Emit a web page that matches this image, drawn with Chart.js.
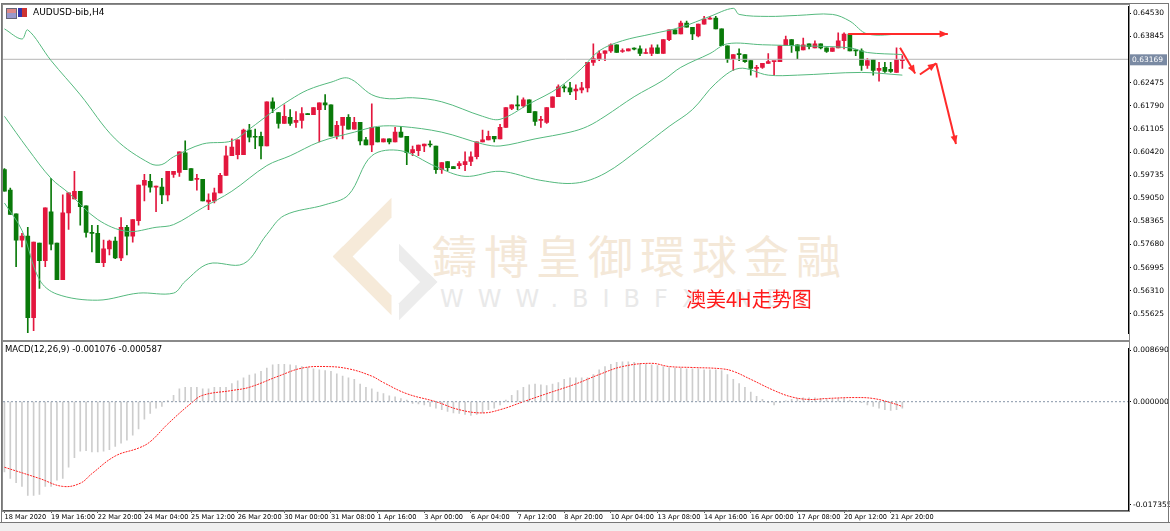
<!DOCTYPE html>
<html>
<head>
<meta charset="utf-8">
<script src="https://cdn.jsdelivr.net/npm/chart.js@4.4.1/dist/chart.umd.min.js"></script>
<style>
  body { margin: 0; background: #fff; width: 1170px; height: 531px; overflow: hidden; position: relative; font-family: "DejaVu Sans", sans-serif; }
  canvas { position: absolute; left: 0; z-index: 2; }
  #main { top: 0; }
  #macd { top: 342px; }
  .frame { position: absolute; border: 1px solid #8a8a8a; z-index: 3; pointer-events: none; }
  .wm { position: absolute; z-index: 1; white-space: nowrap; }
  #title { position: absolute; left: 33px; top: 7px; font-size: 9px; z-index: 4; }
  #macdTitle { position: absolute; left: 5px; top: 344px; font-size: 8.5px; z-index: 4; }
  .ico { position: absolute; top: 8px; width: 9px; height: 9px; z-index: 4; }
  #tabs { position: absolute; left: 0; top: 522px; width: 1170px; height: 9px; background: #f0f0f0; border-top: 1px solid #777; z-index: 4; }
</style>
</head>
<body>
<div class="frame" style="left:1px;top:3px;width:1166px;height:520px;border-color:#777"></div>
<div class="frame" style="left:2px;top:4px;width:1126px;height:335px;"></div>
<div class="frame" style="left:2px;top:341px;width:1126px;height:169px;"></div>
<div class="ico" style="left:6px;background:linear-gradient(#d88 0 40%,#99c 40%);border:1px solid #667"></div>
<div class="ico" style="left:18px;background:linear-gradient(90deg,#33a 0 50%,#c33 50%);"></div>
<div id="title">AUDUSD-bib,H4</div>
<div id="macdTitle">MACD(12,26,9) -0.001076 -0.000587</div>

<div class="wm" style="left:350px;top:215px;width:55px;height:55px;border:14px solid #f6ead9;border-right-color:transparent;border-bottom-color:transparent;transform:rotate(-45deg);"></div>
<div class="wm" style="left:372px;top:255px;width:30px;height:30px;border:12px solid #ececec;border-left-color:transparent;border-top-color:transparent;transform:rotate(-45deg);"></div>
<div class="wm" style="left:432px;top:222px;font-size:45px;letter-spacing:7px;color:#f4e8d8;font-family:'Noto Sans CJK TC';">鑄博皇御環球金融</div>
<div class="wm" style="left:440px;top:285px;font-size:24px;letter-spacing:14px;color:#e9e9e9;font-family:'DejaVu Sans';">WWW.BIBFX.NET</div>
<div class="wm" style="left:686px;top:284px;font-size:20px;color:#ff1a1a;font-family:'Noto Sans CJK SC';z-index:3;">澳美4H走势图</div>

<canvas id="main" width="1170" height="340"></canvas>
<canvas id="macd" width="1170" height="180"></canvas>
<div id="tabs"></div>

<script>
// OHLC per H4 bar: [open, high, low, close]
const ohlc = [
  [.5990,.5993,.5926,.5926],[.5929,.5935,.5857,.5857],[.5859,.5859,.5702,.5781],[.5781,.5801,.5761,.5793],
  [.5793,.5819,.5507,.5551],[.5551,.5775,.5513,.5775],[.5772,.5772,.5638,.5720],[.5720,.5877,.5702,.5877],
  [.5865,.5964,.5752,.5769],[.5772,.5772,.5664,.5664],[.5664,.5915,.5664,.5862],[.5862,.5921,.5813,.5921],
  [.5903,.5985,.5903,.5926],[.5926,.5926,.5825,.5880],[.5883,.5883,.5790,.5804],[.5804,.5825,.5746,.5801],
  [.5801,.5825,.5714,.5714],[.5714,.5781,.5702,.5755],[.5755,.5781,.5737,.5778],[.5778,.5790,.5726,.5728],
  [.5728,.5848,.5720,.5819],[.5819,.5825,.5737,.5793],[.5793,.5842,.5775,.5842],[.5839,.5944,.5825,.5944],
  [.5944,.5976,.5897,.5958],[.5955,.5976,.5923,.5938],[.5938,.5941,.5865,.5939],[.5938,.5964,.5889,.5915],
  [.5915,.5985,.5897,.5985],[.5976,.5985,.5967,.5985],[.5982,.6043,.5970,.6043],[.6040,.6075,.5990,.5990],
  [.5993,.5993,.5958,.5958],[.5961,.5976,.5929,.5962],[.5961,.5961,.5897,.5897],[.5894,.5918,.5871,.5900],
  [.5897,.5935,.5891,.5921],[.5921,.5979,.5921,.5973],[.5973,.6060,.5973,.6031],[.6031,.6081,.6031,.6057],
  [.6034,.6078,.6022,.6078],[.6034,.6110,.6034,.6107],[.6107,.6124,.6072,.6086],[.6089,.6110,.6052,.6086],
  [.6089,.6101,.6022,.6060],[.6060,.6191,.6060,.6191],[.6191,.6203,.6159,.6171],[.6159,.6159,.6113,.6127],
  [.6127,.6182,.6127,.6148],[.6145,.6168,.6121,.6127],[.6130,.6162,.6115,.6136],[.6136,.6174,.6113,.6156],
  [.6156,.6156,.6153,.6153],[.6153,.6174,.6153,.6174],[.6168,.6188,.6072,.6188],[.6188,.6212,.6168,.6182],
  [.6182,.6182,.6089,.6089],[.6089,.6133,.6081,.6121],[.6121,.6145,.6081,.6145],[.6145,.6153,.6110,.6110],
  [.6110,.6145,.6110,.6130],[.6130,.6130,.6063,.6075],[.6078,.6086,.6063,.6063],[.6063,.6185,.6043,.6115],
  [.6115,.6115,.6072,.6072],[.6072,.6081,.6072,.6081],[.6081,.6081,.6066,.6072],[.6072,.6115,.6072,.6101],
  [.6101,.6118,.6086,.6086],[.6089,.6089,.6005,.6040],[.6040,.6060,.6031,.6049],[.6046,.6063,.6031,.6063],
  [.6060,.6066,.6043,.6066],[.6066,.6075,.6057,.6063],[.6060,.6060,.5979,.5990],[.5990,.6011,.5979,.6011],
  [.6014,.6014,.5987,.5996],[.5999,.5999,.5993,.5993],[.6002,.6014,.5993,.6008],[.6005,.6043,.5987,.6014],
  [.6014,.6043,.6002,.6028],[.6028,.6072,.6022,.6072],[.6072,.6107,.6072,.6078],[.6078,.6104,.6078,.6089],
  [.6089,.6089,.6072,.6081],[.6081,.6124,.6081,.6115],[.6115,.6174,.6115,.6174],[.6171,.6182,.6168,.6182],
  [.6182,.6209,.6168,.6179],[.6179,.6203,.6174,.6197],[.6197,.6197,.6159,.6159],[.6162,.6162,.6121,.6133],
  [.6136,.6148,.6115,.6137],[.6130,.6174,.6127,.6174],[.6174,.6206,.6174,.6206],[.6206,.6241,.6206,.6235],
  [.6235,.6241,.6220,.6232],[.6232,.6249,.6212,.6220],[.6223,.6241,.6197,.6229],[.6226,.6249,.6217,.6232],
  [.6232,.6308,.6220,.6308],[.6308,.6363,.6299,.6319],[.6319,.6342,.6313,.6334],[.6334,.6342,.6313,.6342],
  [.6342,.6363,.6337,.6360],[.6360,.6360,.6337,.6337],[.6340,.6348,.6337,.6342],[.6342,.6348,.6342,.6348],
  [.6348,.6351,.6345,.6347],[.6348,.6357,.6328,.6334],[.6334,.6348,.6334,.6337],[.6334,.6360,.6328,.6351],
  [.6351,.6360,.6334,.6334],[.6334,.6375,.6334,.6375],[.6375,.6404,.6372,.6404],[.6404,.6404,.6392,.6392],
  [.6392,.6430,.6392,.6424],[.6424,.6430,.6412,.6412],[.6412,.6412,.6375,.6392],[.6386,.6421,.6383,.6421],
  [.6421,.6444,.6421,.6436],[.6436,.6444,.6436,.6439],[.6439,.6444,.6407,.6407],[.6407,.6407,.6357,.6357],
  [.6357,.6357,.6308,.6319],[.6319,.6331,.6284,.6331],[.6334,.6348,.6313,.6331],[.6331,.6331,.6308,.6310],
  [.6313,.6313,.6270,.6290],[.6290,.6299,.6264,.6293],[.6293,.6305,.6290,.6305],[.6305,.6334,.6305,.6310],
  [.6310,.6310,.6270,.6311],[.6310,.6357,.6310,.6357],[.6357,.6386,.6357,.6375],[.6375,.6375,.6337,.6357],
  [.6360,.6360,.6319,.6342],[.6345,.6380,.6345,.6360],[.6363,.6363,.6348,.6354],[.6351,.6372,.6351,.6363],
  [.6363,.6363,.6348,.6351],[.6351,.6351,.6337,.6340],[.6340,.6351,.6340,.6351],[.6351,.6395,.6351,.6372],
  [.6372,.6395,.6348,.6392],[.6392,.6392,.6342,.6342],[.6345,.6345,.6328,.6342],[.6342,.6348,.6284,.6299],
  [.6299,.6319,.6290,.6313],[.6316,.6316,.6270,.6284],[.6284,.6308,.6252,.6290],[.6293,.6308,.6278,.6281],
  [.6287,.6308,.6278,.6281],[.6278,.6351,.6278,.6316],[.6313,.6328,.6290,.6317]
];

// Bollinger bands: [bar, price]
const upperBand = [[0,.6407],[3,.6377],[4,.6404],[8,.6313],[13,.6212],[19,.6081],[25,.6008],[27,.6005],[29,.6028],
  [34,.6066],[39,.6075],[42,.6110],[46,.6162],[49,.6197],[52,.6226],[56,.6249],[59,.6261],[63,.6212],[66,.6200],
  [70,.6203],[75,.6191],[82,.6148],[85,.6139],[90,.6185],[95,.6232],[99,.6290],[102,.6342],[106,.6372],[111,.6392],
  [116,.6412],[121,.6444],[125,.6468],[126,.6450],[131,.6444],[136,.6447],[142,.6450],[145,.6430],[148,.6392],[154,.6392]];
const middleBand = [[0,.6148],[4,.6052],[8,.5964],[11,.5921],[16,.5842],[21,.5807],[26,.5819],[29,.5827],[34,.5877],
  [39,.5926],[45,.6002],[49,.6031],[54,.6072],[60,.6101],[64,.6118],[68,.6118],[75,.6101],[82,.6066],[85,.6060],
  [91,.6081],[97,.6101],[100,.6118],[103,.6148],[108,.6206],[113,.6255],[116,.6293],[121,.6334],[124,.6363],
  [130,.6360],[136,.6357],[145,.6351],[148,.6337],[154,.6331]];
const lowerBand = [[0,.5891],[3,.5810],[6,.5664],[9,.5621],[16,.5603],[23,.5624],[29,.5624],[31,.5659],[35,.5711],
  [41,.5711],[45,.5798],[48,.5854],[55,.5886],[59,.5915],[63,.6031],[68,.6046],[74,.5999],[79,.5970],[85,.5985],
  [92,.5958],[98,.5950],[103,.5979],[109,.6052],[114,.6118],[118,.6168],[122,.6246],[126,.6290],[131,.6270],
  [136,.6270],[147,.6278],[154,.6270]];

const lastPrice = 0.63169;
const priceTicks = [.64530,.63845,.63160,.62475,.61790,.61105,.60420,.59735,.59050,.58365,.57680,.56995,.56310,.55625];

// MACD histogram per bar and signal line
const macdHist = [
  -.01186,-.01294,-.01364,-.01428,-.01579,-.01579,-.01563,-.01428,-.01428,-.01321,-.01294,-.01105,-.00943,-.00835,
  -.00825,-.00846,-.00846,-.00835,-.00809,-.00755,-.00701,-.00647,-.00566,-.00458,-.00296,-.00199,-.00108,-.00081,
  .00020,.00108,.00216,.00243,.00243,.00243,.00216,.00216,.00243,.00243,.00243,.00307,.00350,.00404,.00447,.00469,
  .00512,.00566,.00620,.00631,.00631,.00620,.00609,.00593,.00577,.00555,.00539,.00523,.00512,.00469,.00431,.00404,
  .00377,.00296,.00243,.00216,.00162,.00135,.00097,.00081,.00054,.00027,-.00027,-.00038,-.00054,-.00081,-.00108,
  -.00135,-.00162,-.00189,-.00199,-.00216,-.00232,-.00216,-.00189,-.00135,-.00108,-.00054,.00027,.00108,.00189,
  .00243,.00286,.00296,.00286,.00270,.00296,.00323,.00377,.00404,.00404,.00404,
  .00404,.00458,.00539,.00593,.00631,.00663,.00674,.00674,.00663,.00647,.00631,.00620,.00609,.00593,.00577,.00566,
  .00566,.00555,.00555,.00555,.00539,.00539,.00539,.00523,.00458,.00377,.00307,.00243,.00162,.00092,.00038,-.00016,
  -.00054,-.00016,.00016,.00038,.00054,.00065,.00065,.00065,.00054,.00038,.00038,.00054,.00054,.00027,0,-.00016,
  -.00054,-.00081,-.00108,-.00135,-.00146,-.00135,-.00108
];
const macdSignal = [[0,-.01105],[6,-.01294],[10,-.01428],[13,-.01375],[15,-.01213],[19,-.00916],[23,-.00782],
  [25,-.00674],[28,-.00377],[32,-.00027],[34,.00108],[39,.00189],[42,.00243],[47,.00431],[51,.00566],[55,.00593],
  [59,.00555],[63,.00431],[65,.00323],[69,.00135],[74,0],[78,-.00135],[82,-.00189],[85,-.00135],[89,0],[93,.00135],
  [98,.00300],[102,.00458],[106,.00593],[111,.00647],[114,.00593],[118,.00577],[123,.00555],[125,.00512],
  [128,.00377],[132,.00189],[135,.00081],[138,.00038],[141,.00054],[146,.00070],[149,.00054],[152,-.00016],[154,-.00081]];
const macdTicks = [0.008690, 0, -0.017355];

const dateLabels = ["18 Mar 2020","19 Mar 16:00","22 Mar 20:00","24 Mar 04:00","25 Mar 12:00","26 Mar 20:00",
  "30 Mar 00:00","31 Mar 08:00","1 Apr 16:00","3 Apr 00:00","6 Apr 04:00","7 Apr 12:00","8 Apr 20:00",
  "10 Apr 04:00","13 Apr 08:00","14 Apr 16:00","16 Apr 00:00","17 Apr 08:00","20 Apr 12:00","21 Apr 20:00"];

// forecast arrows: [fromBar, fromPrice, toBar, toPrice]
const arrows = [[144.7,.6392,161.8,.6392],[153.6,.6351,156.2,.6275],[157,.6272,159.8,.6305],[159.8,.6305,163.2,.6066]];

const UP = "#e3173e", DOWN = "#0a7a0a";
const X_MIN = -0.25, X_MAX = 192.7;
const axisFont = { family: "DejaVu Sans", size: 7.5 };
const dateFont = { family: "DejaVu Sans", size: 6.6 };

const pts = arr => arr.map(p => ({ x: p[0], y: p[1] }));
const candleColor = ohlc.map(d => d[3] >= d[0] ? UP : DOWN);
const bandStyle = { type: "line", borderColor: "#55b97e", borderWidth: 1, pointRadius: 0, tension: 0.35 };

const arrowPlugin = {
  id: "arrows",
  afterDatasetsDraw(chart) {
    const { ctx, scales: { x, y } } = chart;
    ctx.save();
    ctx.strokeStyle = "#ff2a2a"; ctx.fillStyle = "#ff2a2a"; ctx.lineWidth = 2;
    arrows.forEach(a => {
      const x1 = x.getPixelForValue(a[0]), y1 = y.getPixelForValue(a[1]);
      const x2 = x.getPixelForValue(a[2]), y2 = y.getPixelForValue(a[3]);
      const ang = Math.atan2(y2 - y1, x2 - x1);
      ctx.beginPath(); ctx.moveTo(x1, y1); ctx.lineTo(x2, y2); ctx.stroke();
      ctx.beginPath(); ctx.moveTo(x2, y2);
      ctx.lineTo(x2 - 9 * Math.cos(ang - 0.4), y2 - 9 * Math.sin(ang - 0.4));
      ctx.lineTo(x2 - 9 * Math.cos(ang + 0.4), y2 - 9 * Math.sin(ang + 0.4));
      ctx.closePath(); ctx.fill();
    });
    // current price tag on the axis
    const py = y.getPixelForValue(lastPrice);
    ctx.fillStyle = "#7a8aa3";
    ctx.fillRect(x.right + 1, py - 5, 38, 11);
    ctx.fillStyle = "#fff"; ctx.font = "7.5px DejaVu Sans"; ctx.textBaseline = "middle";
    ctx.fillText(lastPrice.toFixed(5), x.right + 4, py + 0.5);
    ctx.restore();
  }
};

new Chart(document.getElementById("main"), {
  type: "bar",
  plugins: [arrowPlugin],
  data: {
    datasets: [
      { ...bandStyle, data: pts(upperBand) },
      { ...bandStyle, data: pts(middleBand) },
      { ...bandStyle, data: pts(lowerBand) },
      { type: "line", data: [{ x: X_MIN, y: lastPrice }, { x: X_MAX, y: lastPrice }], borderColor: "#b5b5b5", borderWidth: 1, pointRadius: 0 },
      { data: ohlc.map((d, i) => ({ x: i, y: [d[2], d[1]] })), backgroundColor: candleColor, barThickness: 1, grouped: false },
      { data: ohlc.map((d, i) => ({ x: i, y: [Math.min(d[0], d[3]), Math.max(d[0], d[3])] })), backgroundColor: candleColor, barThickness: 4, minBarLength: 1, grouped: false }
    ]
  },
  options: {
    responsive: false, animation: false,
    layout: { padding: { left: 3, top: 5, bottom: 2, right: 0 } },
    plugins: { legend: { display: false }, tooltip: { enabled: false } },
    scales: {
      x: { type: "linear", min: X_MIN, max: X_MAX, offset: false, display: false },
      y: {
        position: "right", min: 0.55043, max: 0.64734,
        afterBuildTicks: s => { s.ticks = priceTicks.map(v => ({ value: v })); },
        afterFit: s => { s.width = 42; },
        grid: { drawOnChartArea: false, tickLength: 3, color: "#000" },
        border: { color: "#000" },
        ticks: { font: axisFont, color: "#000", padding: 2, callback: v => v.toFixed(5) }
      }
    }
  }
});

new Chart(document.getElementById("macd"), {
  type: "bar",
  data: {
    datasets: [
      { type: "line", data: [{ x: X_MIN, y: 0 }, { x: X_MAX, y: 0 }], borderColor: "#8796a8", borderWidth: 1, borderDash: [2, 2], pointRadius: 0 },
      { type: "line", data: pts(macdSignal), borderColor: "#ff2020", borderWidth: 1, borderDash: [2, 1], pointRadius: 0, tension: 0.4 },
      { data: macdHist.map((v, i) => ({ x: i, y: v })), backgroundColor: "#cdcdcd", barThickness: 1 }
    ]
  },
  options: {
    responsive: false, animation: false,
    layout: { padding: { left: 3, top: 1, bottom: 0, right: 0 } },
    plugins: { legend: { display: false }, tooltip: { enabled: false } },
    scales: {
      x: {
        type: "linear", min: X_MIN, max: X_MAX, offset: false,
        afterBuildTicks: s => { s.ticks = dateLabels.map((_, i) => ({ value: i * 8 })); },
        afterFit: s => { s.height = 12; },
        grid: { drawOnChartArea: false, offset: false, tickLength: 3, color: "#555" },
        border: { color: "#555" },
        ticks: { font: dateFont, color: "#000", align: "start", padding: 0, maxRotation: 0, autoSkip: false,
                 callback: v => dateLabels[v / 8] }
      },
      y: {
        position: "right", min: -0.01826, max: 0.00897,
        afterBuildTicks: s => { s.ticks = macdTicks.map(v => ({ value: v })); },
        afterFit: s => { s.width = 42; },
        grid: { drawOnChartArea: false, tickLength: 3, color: "#000" },
        border: { color: "#000" },
        ticks: { font: axisFont, color: "#000", padding: 2, callback: v => v.toFixed(6) }
      }
    }
  }
});
</script>
</body>
</html>
